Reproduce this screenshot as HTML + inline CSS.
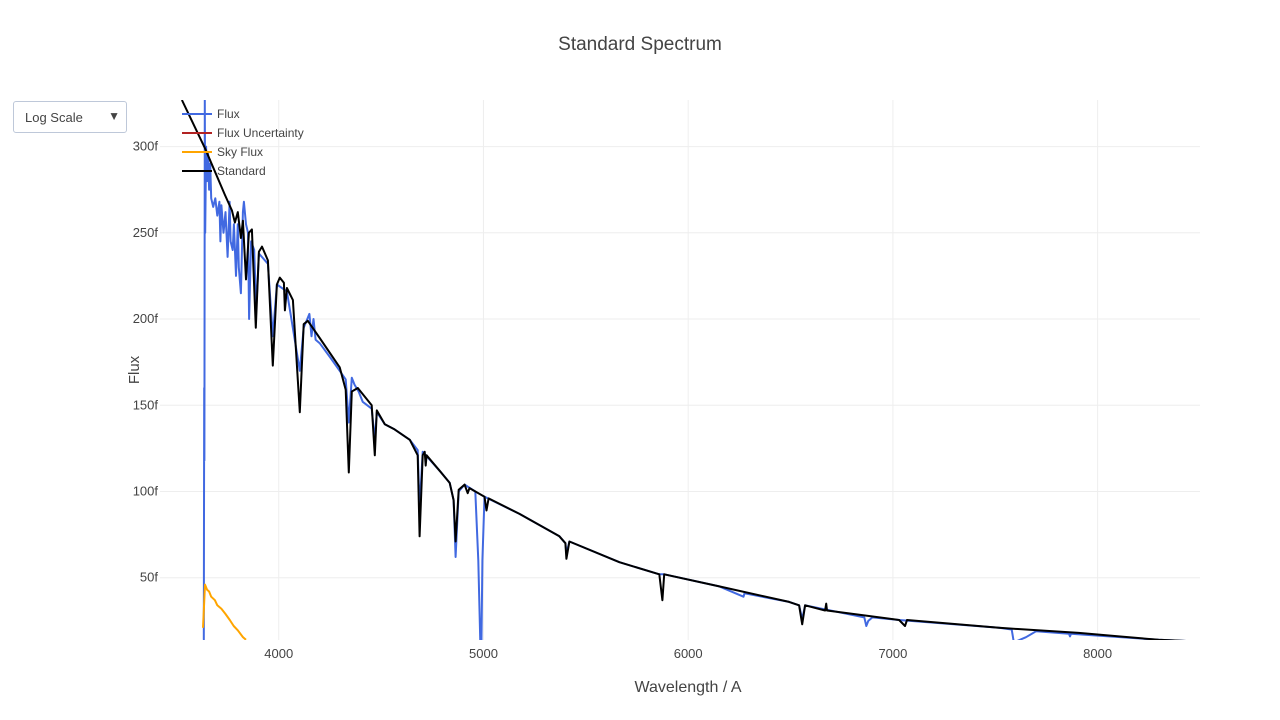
<!DOCTYPE html>
<html><head><meta charset="utf-8">
<style>
body{margin:0;background:#fff;font-family:"Liberation Sans",sans-serif;}
#wrap{position:relative;width:1280px;height:720px;overflow:hidden;}
#dd{position:absolute;left:13px;top:101px;width:114px;height:32px;border:1px solid #bec8d9;border-radius:3px;box-sizing:border-box;font-size:13px;color:#444;}
#dd span{position:absolute;left:11px;top:8px;}
#dd b{position:absolute;right:6px;top:7px;font-size:12px;font-weight:normal;}
</style></head><body>
<div id="wrap">
<div id="dd"><span>Log Scale</span><b>▼</b></div>
<svg id="svg" width="1280" height="720" style="position:absolute;left:0;top:0"></svg>
</div>
<script>
const xTicks=[4000,5000,6000,7000,8000];
const yTicks=[50,100,150,200,250,300];
const yTickLabels=["50f","100f","150f","200f","250f","300f"];
const stdW=[3527,3640,3737,3771,3786,3800,3815,3825,3840,3854,3869,3888,3903,3918,3947,3971,3991,4005,4025,4030,4040,4069,4103,4122,4142,4200,4298,4327,4342,4357,4386,4454,4469,4479,4518,4566,4640,4679,4688,4703,4713,4718,4722,4786,4835,4854,4864,4879,4908,4923,4932,5005,5015,5025,5176,5371,5400,5405,5420,5664,5859,5874,5883,6152,6493,6542,6557,6571,6669,6674,6678,7030,7059,7069,7518,7908,8298,8500];
const stdF=[327,299,272,263,256,262,247,257,223,250,252,195,239,242,234,173,220,224,221,205,218,211,146,197,199,189,172,159,111,158,160,150,121,147,139,136,130,121,74,121,123,115,121,112,105,95,71,101,104,99,102,97,89,96,87,74,70,61,71,59,52,37,52,45,36,34,23,34,31,35,31,25.5,22,25.5,21,18,14,13];
const fluxW=[3630,3634,3636,3637,3639,3641,3645,3650,3655,3660,3665,3670,3680,3690,3700,3710,3715,3720,3730,3740,3750,3760,3765,3775,3781,3791,3800,3805,3815,3825,3830,3840,3850,3855,3865,3880,3890,3903,3947,3971,3991,4040,4103,4122,4150,4160,4170,4180,4200,4250,4298,4327,4342,4357,4370,4390,4410,4454,4469,4479,4518,4566,4640,4679,4688,4703,4786,4835,4854,4864,4879,4908,4960,4975,4985,4990,4995,5005,5176,5371,5400,5405,5420,5664,5859,5883,6152,6270,6275,6493,6542,6557,6571,6860,6870,6880,6900,7030,7518,7580,7590,7600,7650,7700,7860,7865,7870,8298,8500];
const fluxF=[14,14,160,118,327,250,300,280,296,275,290,270,265,270,260,268,245,266,250,262,236,268,245,240,255,225,255,230,215,262,268,255,250,200,245,240,205,238,232,190,220,216,170,195,203,190,200,188,186,178,170,165,140,166,162,158,152,148,130,146,139,136,130,124,90,123,112,105,95,62,100,104,100,60,10,10,60,97,87,74,70,64,71,59,52,52,45,39,41,36,34,26,34,27,22,25,27,25.5,21,20,13,13,15.5,19,17.5,16,17.5,14,13];
const skyW=[3630,3640,3650,3660,3670,3688,3700,3720,3740,3761,3780,3800,3825,3840];
const skyF=[21,46,43,42,39,37,34,32,29,25.5,22,19.5,15.6,14];
const X0=160,X1=1200,Y0=100,Y1=640,xmin=3420,xmax=8500,ymin=13.9,ymax=327;
const sx=w=>X0+(w-xmin)/(xmax-xmin)*(X1-X0);
const sy=f=>Y1-(f-ymin)/(ymax-ymin)*(Y1-Y0);
const svg=document.getElementById('svg');const NS='http://www.w3.org/2000/svg';
function mk(t,a,p){const e=document.createElementNS(NS,t);for(const k in a)e.setAttribute(k,a[k]);(p||svg).appendChild(e);return e;}
const defs=mk('defs',{});const cp=mk('clipPath',{id:'c'},defs);mk('rect',{x:X0,y:Y0,width:X1-X0,height:Y1-Y0},cp);
xTicks.forEach(v=>{const l=mk('line',{x1:sx(v),x2:sx(v),y1:Y0,y2:Y1,stroke:'#eee'});


const t=mk('text',{x:sx(v),y:Y1+18,'text-anchor':'middle','font-size':13,fill:'#444'});t.textContent=v;

});
yTicks.forEach((v,i)=>{const l=mk('line',{x1:X0,x2:X1,y1:sy(v),y2:sy(v),stroke:'#eee'});


const t=mk('text',{x:X0-2,y:sy(v)+4,'text-anchor':'end','font-size':13,fill:'#444'});t.textContent=yTickLabels[i];

});
const g=mk('g',{'clip-path':'url(#c)'});
function line(W,F,c,n){const p=mk('path',{d:W.map((w,i)=>(i?'L':'M')+sx(w).toFixed(1)+','+sy(F[i]).toFixed(1)).join(''),fill:'none',stroke:c,'stroke-width':2,'stroke-linejoin':'round'},g);

}
line(fluxW,fluxF,'#4169e1','flux-line');
line(skyW,skyF,'#ffa500','sky-flux-line');
line(stdW,stdF,'#000','standard-line');
const T=mk('text',{x:640,y:50,'text-anchor':'middle','font-size':19,fill:'#444'});T.textContent='Standard Spectrum';


const XT=mk('text',{x:688,y:692,'text-anchor':'middle','font-size':16,fill:'#444'});XT.textContent='Wavelength / A';


const YT=mk('text',{x:139,y:370,'text-anchor':'middle','font-size':15,fill:'#444',transform:'rotate(-90 139 370)'});YT.textContent='Flux';


const legNames=['Flux','Flux Uncertainty','Sky Flux','Standard'];
const legCols=['#4169e1','#b22222','#ffa500','#000'];
legNames.forEach((n,i)=>{const y=114+i*19;
const l=mk('line',{x1:182,x2:212,y1:y,y2:y,stroke:legCols[i],'stroke-width':2});


const t=mk('text',{x:217,y:y+4,'font-size':12,fill:'#444'});t.textContent=n;

});
</script>
</body></html>
